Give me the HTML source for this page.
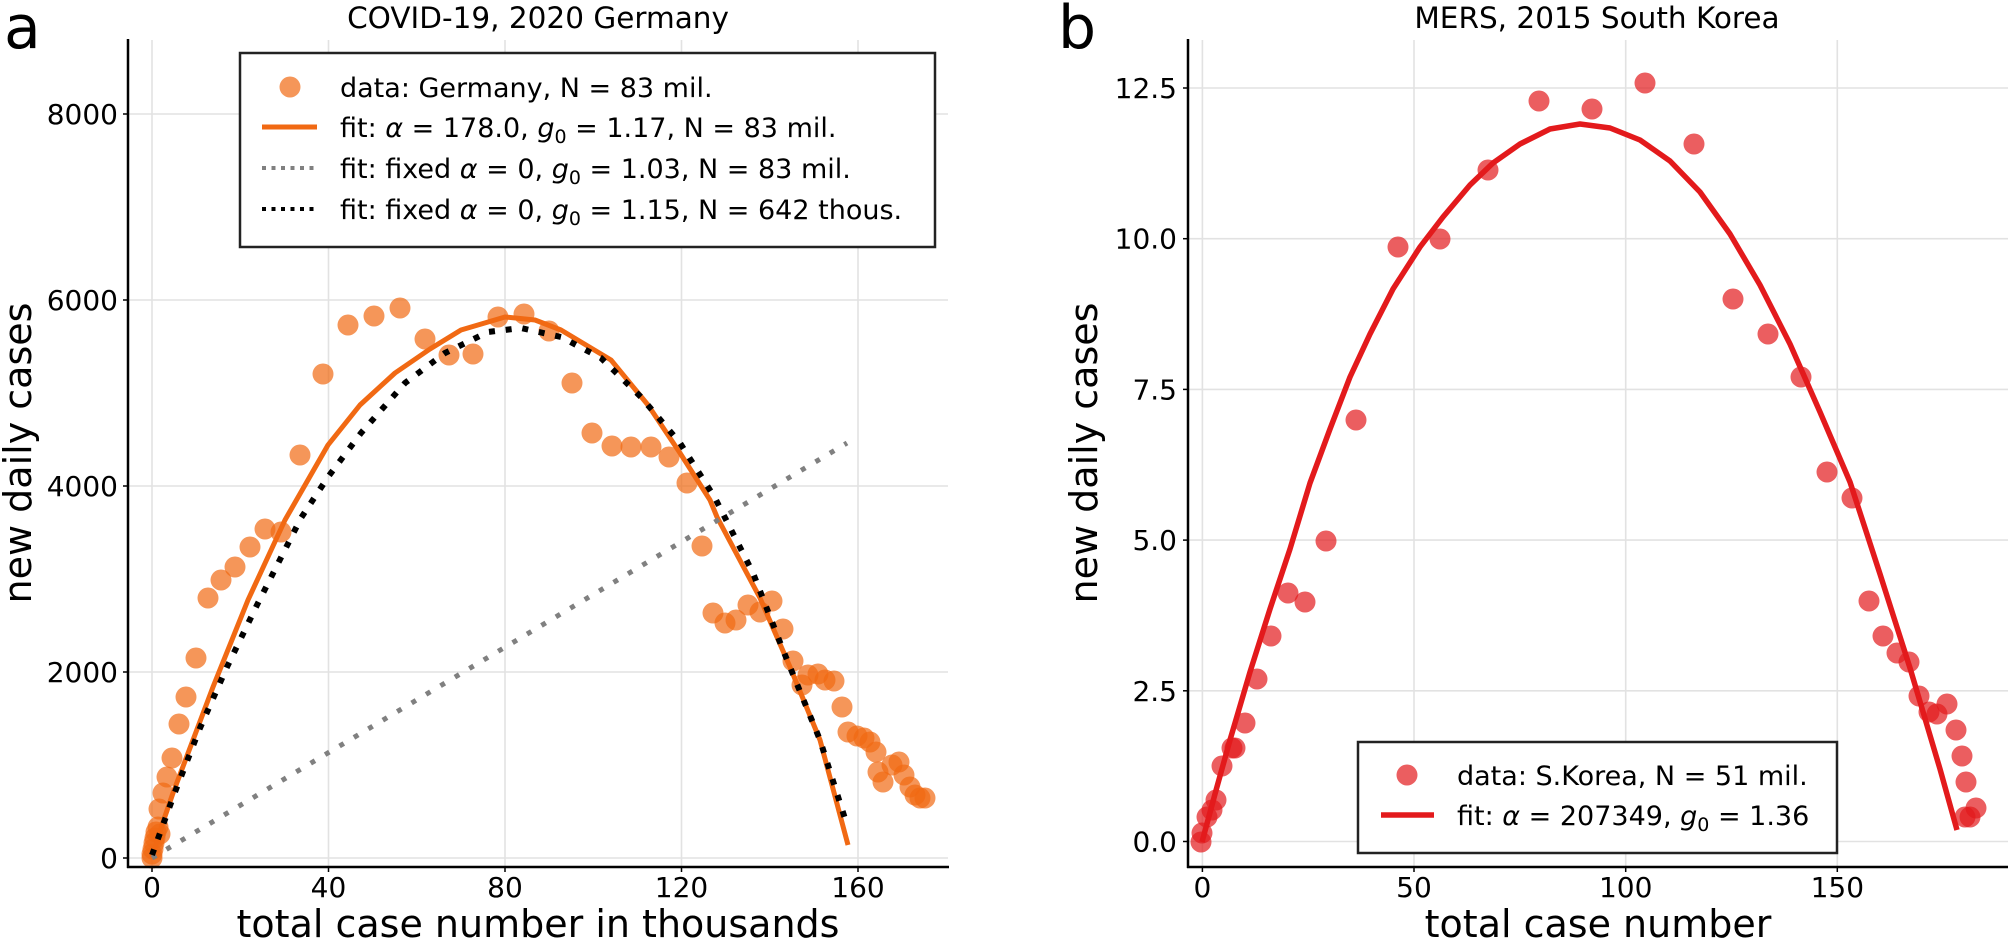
<!DOCTYPE html>
<html><head><meta charset="utf-8"><style>
html,body{margin:0;padding:0;background:#fff;}
svg{display:block;}
text{font-family:"DejaVu Sans","Liberation Sans",sans-serif;fill:#000;}
</style></head><body>
<svg width="2011" height="941" viewBox="0 0 2011 941" xmlns="http://www.w3.org/2000/svg">
<rect width="2011" height="941" fill="#fff"/>
<!-- ===== LEFT PANEL ===== -->
<g stroke="#e2e2e2" stroke-width="1.6">
<line x1="152" y1="40" x2="152" y2="867"/><line x1="328.5" y1="40" x2="328.5" y2="867"/><line x1="505" y1="40" x2="505" y2="867"/><line x1="681.5" y1="40" x2="681.5" y2="867"/><line x1="858" y1="40" x2="858" y2="867"/>
<line x1="128" y1="858" x2="948" y2="858"/><line x1="128" y1="672" x2="948" y2="672"/><line x1="128" y1="486" x2="948" y2="486"/><line x1="128" y1="300" x2="948" y2="300"/><line x1="128" y1="114" x2="948" y2="114"/>
</g>
<g fill="#f16913" fill-opacity="0.7">
<circle cx="152" cy="858" r="10.5"/><circle cx="152" cy="854" r="10.5"/><circle cx="153" cy="849" r="10.5"/><circle cx="154" cy="843" r="10.5"/><circle cx="155" cy="838" r="10.5"/><circle cx="156" cy="832" r="10.5"/><circle cx="158" cy="827" r="10.5"/><circle cx="160" cy="834" r="10.5"/>
<circle cx="159" cy="809" r="10.5"/><circle cx="163" cy="793" r="10.5"/><circle cx="167" cy="777" r="10.5"/><circle cx="172" cy="758" r="10.5"/><circle cx="179" cy="724" r="10.5"/><circle cx="186" cy="697" r="10.5"/><circle cx="196" cy="658" r="10.5"/><circle cx="208" cy="598" r="10.5"/><circle cx="221" cy="580" r="10.5"/><circle cx="235" cy="567" r="10.5"/><circle cx="250" cy="547" r="10.5"/><circle cx="265" cy="529" r="10.5"/><circle cx="281" cy="532" r="10.5"/><circle cx="300" cy="455" r="10.5"/><circle cx="323" cy="374" r="10.5"/><circle cx="348" cy="325" r="10.5"/><circle cx="374" cy="316" r="10.5"/><circle cx="400" cy="308" r="10.5"/><circle cx="425" cy="339" r="10.5"/><circle cx="449" cy="355" r="10.5"/><circle cx="473" cy="354" r="10.5"/><circle cx="498" cy="317" r="10.5"/><circle cx="524" cy="314" r="10.5"/><circle cx="549" cy="331" r="10.5"/><circle cx="572" cy="383" r="10.5"/><circle cx="592" cy="433" r="10.5"/><circle cx="612" cy="446" r="10.5"/><circle cx="631" cy="447" r="10.5"/><circle cx="651" cy="447" r="10.5"/><circle cx="669" cy="457" r="10.5"/><circle cx="687" cy="483" r="10.5"/><circle cx="702" cy="546" r="10.5"/><circle cx="713" cy="613" r="10.5"/><circle cx="725" cy="623" r="10.5"/><circle cx="736" cy="620" r="10.5"/><circle cx="748" cy="605" r="10.5"/><circle cx="760" cy="612" r="10.5"/><circle cx="772" cy="601" r="10.5"/><circle cx="783" cy="629" r="10.5"/><circle cx="793" cy="661" r="10.5"/><circle cx="802" cy="685" r="10.5"/><circle cx="808" cy="675" r="10.5"/><circle cx="818" cy="674" r="10.5"/><circle cx="825" cy="680" r="10.5"/><circle cx="834" cy="681" r="10.5"/><circle cx="842" cy="707" r="10.5"/><circle cx="848" cy="732" r="10.5"/><circle cx="857" cy="736" r="10.5"/><circle cx="864" cy="738" r="10.5"/><circle cx="870" cy="742" r="10.5"/><circle cx="876" cy="752" r="10.5"/><circle cx="878" cy="772" r="10.5"/><circle cx="883" cy="782" r="10.5"/><circle cx="892" cy="765" r="10.5"/><circle cx="899" cy="762" r="10.5"/><circle cx="904" cy="775" r="10.5"/><circle cx="910" cy="787" r="10.5"/><circle cx="915" cy="795" r="10.5"/><circle cx="920" cy="798" r="10.5"/><circle cx="925" cy="798" r="10.5"/>
</g>
<polyline fill="none" stroke="#f16913" stroke-width="5" stroke-linejoin="round" points="152,858 162,825 173,793 213,687 248,600 285,520 328,445 360,405 395,373 430,349 461,330 505,317 535,320 561,330 611,360 648,405 680,453 710,500 717,517 760,598 790,667 820,740 848,845"/>
<line x1="152" y1="858" x2="847" y2="443" stroke="#808080" stroke-width="5" stroke-dasharray="5 11.8"/>
<polyline fill="none" stroke="#000" stroke-width="6" stroke-dasharray="6 10.8" points="152,855 175,792 200,728 227,667 257,605 301,518 328,477 361,433 405,383 445,353 488,332 521,328 561,337 601,358 641,397 680,443 715,498 753,573 783,650 820,740 847,825"/>
<!-- axes -->
<g stroke="#000" stroke-width="2.5" fill="none">
<line x1="128" y1="39" x2="128" y2="868"/><line x1="127" y1="867" x2="949" y2="867"/>
</g>
<g stroke="#000" stroke-width="1.5">
<line x1="123" y1="858" x2="128" y2="858"/><line x1="123" y1="672" x2="128" y2="672"/><line x1="123" y1="486" x2="128" y2="486"/><line x1="123" y1="300" x2="128" y2="300"/><line x1="123" y1="114" x2="128" y2="114"/>
<line x1="152" y1="867" x2="152" y2="872"/><line x1="328.5" y1="867" x2="328.5" y2="872"/><line x1="505" y1="867" x2="505" y2="872"/><line x1="681.5" y1="867" x2="681.5" y2="872"/><line x1="858" y1="867" x2="858" y2="872"/>
</g>
<g font-size="28" text-anchor="end">
<text x="118" y="868">0</text><text x="118" y="682">2000</text><text x="118" y="496">4000</text><text x="118" y="310">6000</text><text x="118" y="124">8000</text>
</g>
<g font-size="28" text-anchor="middle">
<text x="152" y="897">0</text><text x="328.5" y="897">40</text><text x="505" y="897">80</text><text x="681.5" y="897">120</text><text x="858" y="897">160</text>
</g>
<text x="538" y="28" font-size="29.5" text-anchor="middle">COVID-19, 2020 Germany</text>
<text x="538" y="937" font-size="38" text-anchor="middle">total case number in thousands</text>
<text transform="translate(31,453) rotate(-90)" font-size="38" text-anchor="middle">new daily cases</text>
<text x="4" y="48" font-size="60">a</text>
<!-- legend left -->
<rect x="240" y="53" width="695" height="194" fill="#fff" stroke="#222" stroke-width="2.5"/>
<circle cx="290" cy="87" r="10.5" fill="#f16913" fill-opacity="0.7"/>
<line x1="262" y1="127" x2="317" y2="127" stroke="#f16913" stroke-width="5"/>
<line x1="262" y1="168" x2="317" y2="168" stroke="#808080" stroke-width="4" stroke-dasharray="4 5.5"/>
<line x1="262" y1="209" x2="317" y2="209" stroke="#000" stroke-width="4" stroke-dasharray="4 5.5"/>
<g font-size="27">
<text x="340" y="97">data: Germany, N = 83 mil.</text>
<text x="340" y="137">fit: <tspan font-style="italic">α</tspan> = 178.0, <tspan font-style="italic">g</tspan><tspan font-size="19" dy="6">0</tspan><tspan dy="-6"> = 1.17, N = 83 mil.</tspan></text>
<text x="340" y="178">fit: fixed <tspan font-style="italic">α</tspan> = 0, <tspan font-style="italic">g</tspan><tspan font-size="19" dy="6">0</tspan><tspan dy="-6"> = 1.03, N = 83 mil.</tspan></text>
<text x="340" y="219">fit: fixed <tspan font-style="italic">α</tspan> = 0, <tspan font-style="italic">g</tspan><tspan font-size="19" dy="6">0</tspan><tspan dy="-6"> = 1.15, N = 642 thous.</tspan></text>
</g>
<!-- ===== RIGHT PANEL ===== -->
<g stroke="#e2e2e2" stroke-width="1.6">
<line x1="1202.4" y1="40" x2="1202.4" y2="867"/><line x1="1414" y1="40" x2="1414" y2="867"/><line x1="1625.7" y1="40" x2="1625.7" y2="867"/><line x1="1837.3" y1="40" x2="1837.3" y2="867"/>
<line x1="1188" y1="841.5" x2="2008" y2="841.5"/><line x1="1188" y1="690.8" x2="2008" y2="690.8"/><line x1="1188" y1="540.1" x2="2008" y2="540.1"/><line x1="1188" y1="389.4" x2="2008" y2="389.4"/><line x1="1188" y1="238.7" x2="2008" y2="238.7"/><line x1="1188" y1="88" x2="2008" y2="88"/>
</g>
<g fill="#e31a1c" fill-opacity="0.7">
<circle cx="1201" cy="842" r="10.5"/><circle cx="1202" cy="833" r="10.5"/><circle cx="1207" cy="817" r="10.5"/><circle cx="1212" cy="810" r="10.5"/><circle cx="1216" cy="800" r="10.5"/><circle cx="1222" cy="766" r="10.5"/><circle cx="1232" cy="748" r="10.5"/><circle cx="1235" cy="748" r="10.5"/><circle cx="1245" cy="723" r="10.5"/><circle cx="1257" cy="679" r="10.5"/><circle cx="1271" cy="636" r="10.5"/><circle cx="1288" cy="593" r="10.5"/><circle cx="1305" cy="602" r="10.5"/><circle cx="1326" cy="541" r="10.5"/><circle cx="1356" cy="420" r="10.5"/><circle cx="1398" cy="247" r="10.5"/><circle cx="1440" cy="239" r="10.5"/><circle cx="1488" cy="170" r="10.5"/><circle cx="1539" cy="101" r="10.5"/><circle cx="1592" cy="109" r="10.5"/><circle cx="1645" cy="83" r="10.5"/><circle cx="1694" cy="144" r="10.5"/><circle cx="1733" cy="299" r="10.5"/><circle cx="1768" cy="334" r="10.5"/><circle cx="1801" cy="377" r="10.5"/><circle cx="1827" cy="472" r="10.5"/><circle cx="1852" cy="498" r="10.5"/><circle cx="1869" cy="601" r="10.5"/><circle cx="1883" cy="636" r="10.5"/><circle cx="1897" cy="653" r="10.5"/><circle cx="1909" cy="662" r="10.5"/><circle cx="1919" cy="696" r="10.5"/><circle cx="1929" cy="712" r="10.5"/><circle cx="1937" cy="714" r="10.5"/><circle cx="1947" cy="704" r="10.5"/><circle cx="1956" cy="730" r="10.5"/><circle cx="1962" cy="756" r="10.5"/><circle cx="1966" cy="782" r="10.5"/><circle cx="1976" cy="808" r="10.5"/><circle cx="1970" cy="817" r="10.5"/><circle cx="1965" cy="817" r="10.5"/>
</g>
<polyline fill="none" stroke="#e31a1c" stroke-width="5.5" stroke-linejoin="round" points="1202,842 1215,794 1230,740 1250,672 1270,609 1290,549 1310,483 1330,429 1350,377 1370,334 1393,289 1420,247 1443,217 1470,185 1493,163 1520,144 1550,129 1580,124 1610,128 1640,140 1670,161 1700,192 1730,234 1760,285 1790,344 1820,412 1850,482 1880,574 1910,668 1940,769 1957,830"/>
<g stroke="#000" stroke-width="2.5" fill="none">
<line x1="1188" y1="39" x2="1188" y2="868"/><line x1="1187" y1="867" x2="2008" y2="867"/>
</g>
<g stroke="#000" stroke-width="1.5">
<line x1="1183" y1="841.5" x2="1188" y2="841.5"/><line x1="1183" y1="690.8" x2="1188" y2="690.8"/><line x1="1183" y1="540.1" x2="1188" y2="540.1"/><line x1="1183" y1="389.4" x2="1188" y2="389.4"/><line x1="1183" y1="238.7" x2="1188" y2="238.7"/><line x1="1183" y1="88" x2="1188" y2="88"/>
<line x1="1202.4" y1="867" x2="1202.4" y2="872"/><line x1="1414" y1="867" x2="1414" y2="872"/><line x1="1625.7" y1="867" x2="1625.7" y2="872"/><line x1="1837.3" y1="867" x2="1837.3" y2="872"/>
</g>
<g font-size="28" text-anchor="end">
<text x="1177" y="851.5">0.0</text><text x="1177" y="700.8">2.5</text><text x="1177" y="550.1">5.0</text><text x="1177" y="399.4">7.5</text><text x="1177" y="248.7">10.0</text><text x="1177" y="98">12.5</text>
</g>
<g font-size="28" text-anchor="middle">
<text x="1202.4" y="897">0</text><text x="1414" y="897">50</text><text x="1625.7" y="897">100</text><text x="1837.3" y="897">150</text>
</g>
<text x="1597" y="28" font-size="29.5" text-anchor="middle">MERS, 2015 South Korea</text>
<text x="1598" y="937" font-size="38" text-anchor="middle">total case number</text>
<text transform="translate(1097,453) rotate(-90)" font-size="38" text-anchor="middle">new daily cases</text>
<text x="1058" y="48" font-size="60">b</text>
<rect x="1358" y="742" width="479" height="111" fill="#fff" stroke="#222" stroke-width="2.5"/>
<circle cx="1407" cy="775" r="10.5" fill="#e31a1c" fill-opacity="0.7"/>
<line x1="1381" y1="815" x2="1434" y2="815" stroke="#e31a1c" stroke-width="5.5"/>
<g font-size="27">
<text x="1457" y="785">data: S.Korea, N = 51 mil.</text>
<text x="1457" y="825">fit: <tspan font-style="italic">α</tspan> = 207349, <tspan font-style="italic">g</tspan><tspan font-size="19" dy="6">0</tspan><tspan dy="-6"> = 1.36</tspan></text>
</g>
</svg>
</body></html>
